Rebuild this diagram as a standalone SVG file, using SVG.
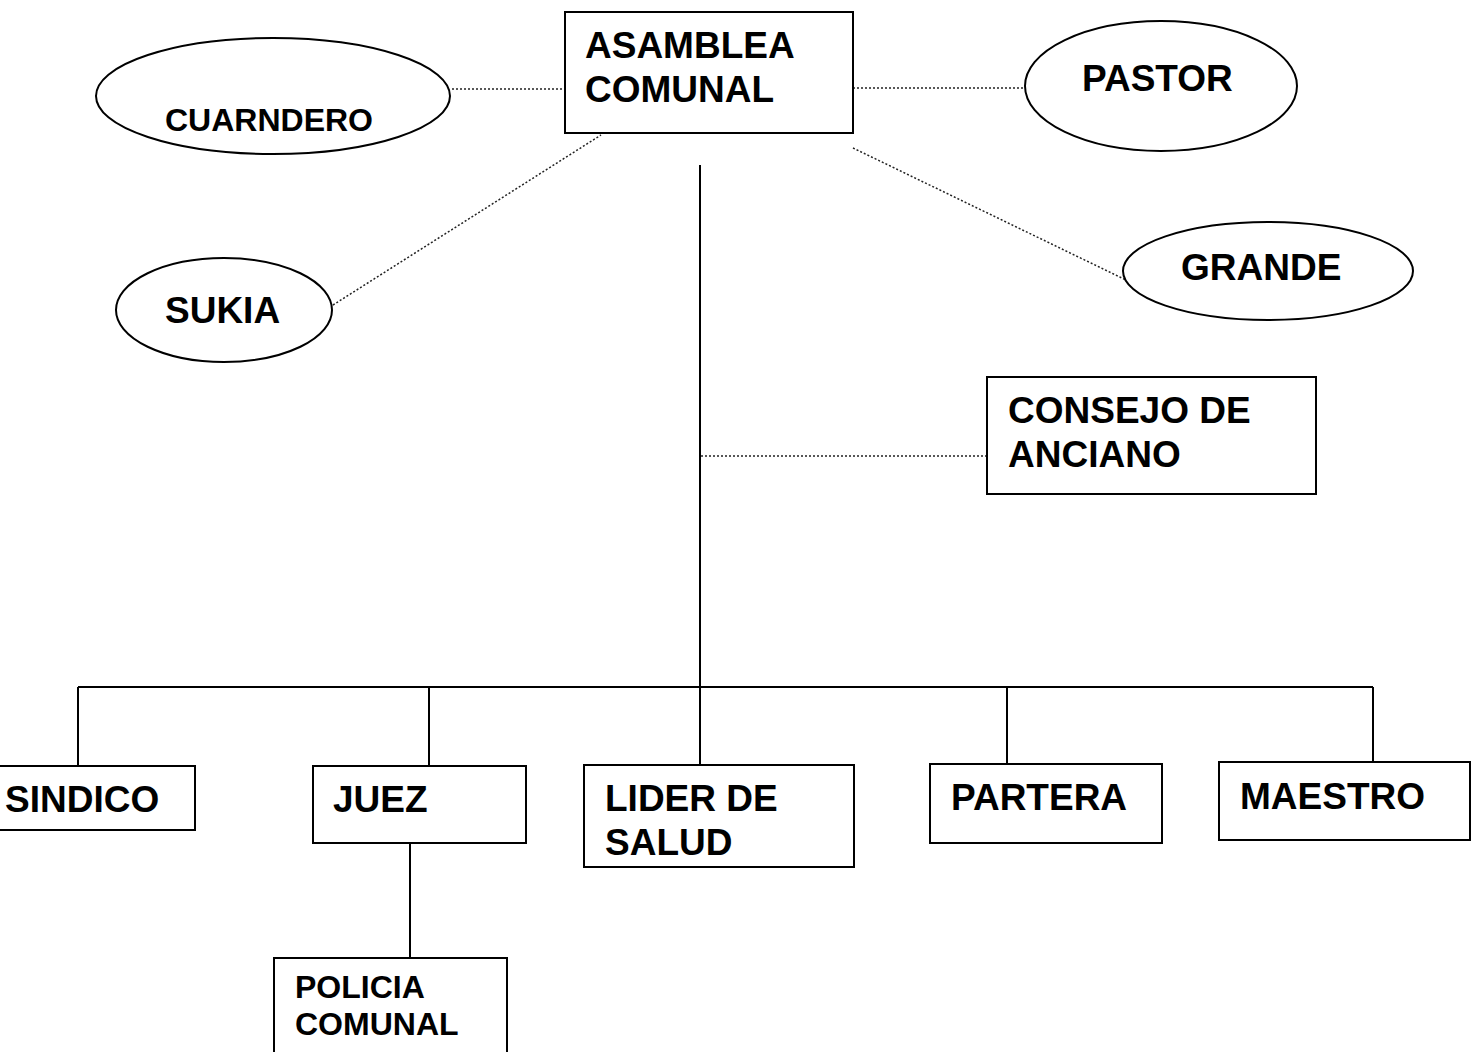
<svg xmlns="http://www.w3.org/2000/svg" width="1480" height="1052" viewBox="0 0 1480 1052">
<style>
.box{fill:#fff;stroke:#000;stroke-width:2}
.ell{fill:#fff;stroke:#000;stroke-width:2}
.t{font-family:"Liberation Sans",Arial,sans-serif;font-weight:bold;font-size:37px;fill:#000}
.s{font-size:32px}
.solid{stroke:#000;stroke-width:2;fill:none}
.dot{stroke:#222;stroke-width:1.5;stroke-dasharray:2 2;fill:none}
</style>
<rect width="1480" height="1052" fill="#fff"/>
<g id="connectors">
<line class="dot" x1="452" y1="89" x2="565" y2="89"/>
<line class="dot" x1="333" y1="305" x2="601" y2="135"/>
<line class="dot" x1="853" y1="88" x2="1025" y2="88"/>
<line class="dot" x1="853" y1="148" x2="1126" y2="280"/>
<line class="dot" x1="701" y1="456" x2="987" y2="456"/>
<line class="solid" x1="700" y1="165" x2="700" y2="766"/>
<line class="solid" x1="78" y1="687" x2="1373" y2="687"/>
<line class="solid" x1="78" y1="687" x2="78" y2="766"/>
<line class="solid" x1="429" y1="687" x2="429" y2="766"/>
<line class="solid" x1="1007" y1="687" x2="1007" y2="764"/>
<line class="solid" x1="1373" y1="687" x2="1373" y2="762"/>
<line class="solid" x1="410" y1="843" x2="410" y2="958"/>
</g>
<g id="asamblea">
<rect class="box" x="565" y="12" width="288" height="121"/>
<text class="t" x="585" y="58">ASAMBLEA</text>
<text class="t" x="585" y="102">COMUNAL</text>
</g>
<g id="cuarndero">
<ellipse class="ell" cx="273" cy="96" rx="177" ry="58"/>
<text class="t s" x="165" y="131">CUARNDERO</text>
</g>
<g id="sukia">
<ellipse class="ell" cx="224" cy="310" rx="108" ry="52"/>
<text class="t" x="165" y="323">SUKIA</text>
</g>
<g id="pastor">
<ellipse class="ell" cx="1161" cy="86" rx="136" ry="65"/>
<text class="t" x="1082" y="91">PASTOR</text>
</g>
<g id="grande">
<ellipse class="ell" cx="1268" cy="271" rx="145" ry="49"/>
<text class="t" x="1181" y="280">GRANDE</text>
</g>
<g id="consejo">
<rect class="box" x="987" y="377" width="329" height="117"/>
<text class="t" x="1008" y="423">CONSEJO DE</text>
<text class="t" x="1008" y="467">ANCIANO</text>
</g>
<g id="sindico">
<rect class="box" x="-2" y="766" width="197" height="64"/>
<text class="t" x="5" y="812">SINDICO</text>
</g>
<g id="juez">
<rect class="box" x="313" y="766" width="213" height="77"/>
<text class="t" x="333" y="812">JUEZ</text>
</g>
<g id="lider">
<rect class="box" x="584" y="765" width="270" height="102"/>
<text class="t" x="605" y="811">LIDER DE</text>
<text class="t" x="605" y="855">SALUD</text>
</g>
<g id="partera">
<rect class="box" x="930" y="764" width="232" height="79"/>
<text class="t" x="951" y="810">PARTERA</text>
</g>
<g id="maestro">
<rect class="box" x="1219" y="762" width="251" height="78"/>
<text class="t" x="1240" y="809">MAESTRO</text>
</g>
<g id="policia">
<rect class="box" x="274" y="958" width="233" height="100"/>
<text class="t s" x="295" y="998">POLICIA</text>
<text class="t s" x="295" y="1035">COMUNAL</text>
</g>
</svg>
